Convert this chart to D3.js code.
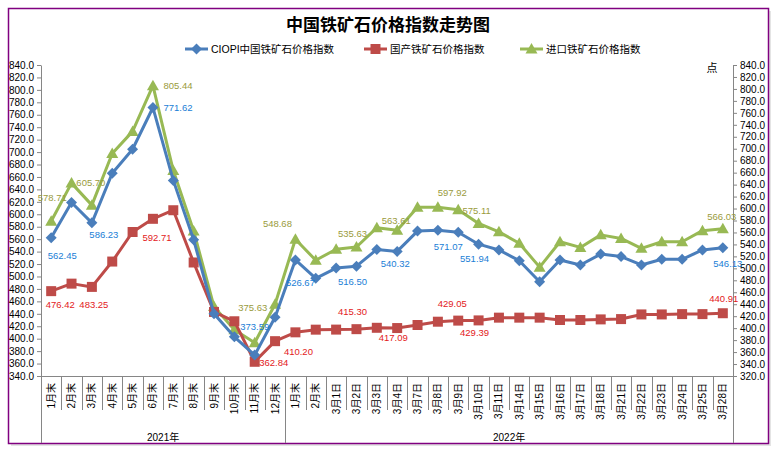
<!DOCTYPE html>
<html>
<head>
<meta charset="utf-8">
<script src="https://cdn.jsdelivr.net/npm/d3@7"></script>
<style>
  body { margin: 0; background: #fff; }
  text { font-family: "Liberation Sans", "Noto Sans CJK SC", sans-serif; }
</style>
</head>
<body>
<script>
// categories (x axis)
var categories = ["1月末","2月末","3月末","4月末","5月末","6月末","7月末","8月末","9月末","10月末","11月末","12月末",
                  "1月末","2月末","3月1日","3月2日","3月3日","3月4日","3月7日","3月8日","3月9日","3月10日","3月11日",
                  "3月14日","3月15日","3月16日","3月17日","3月18日","3月21日","3月22日","3月23日","3月24日","3月25日","3月28日"];
var yearLabels = ["2021年", "2022年"];
var yearCounts = [12, 22];

// series values
var ciopi = [562.45, 619, 586.23, 666, 704.5, 771.62, 654.5, 559, 440, 403, 373.59, 434.4,
             526.67, 497, 513.5, 516.50, 543.5, 540.32, 573, 574.5, 571.07, 551.94, 542.6,
             525.4, 491.6, 526.5, 518.5, 536, 532, 518.5, 527.6, 527.6, 542.6, 546.13];
var domestic = [476.42, 488.5, 483.25, 524, 571.5, 592.71, 606.5, 522.5, 443, 428, 362.84, 396,
                410.20, 414.5, 414.6, 415.30, 417.5, 417.09, 422, 427.3, 429.05, 429.39, 433.8,
                433.8, 433.8, 430, 430, 431, 431.5, 439, 439, 439.5, 439.5, 440.91];
var imported = [578.71, 642.5, 605.70, 692, 729, 805.44, 663.5, 562.5, 436, 397.5, 375.63, 440,
                548.68, 513.5, 532, 535.63, 568, 563.61, 602, 602, 597.92, 575.11, 561,
                542, 502, 544.5, 535, 556, 550, 533.5, 544.5, 544.5, 563, 566.03];

// which points carry a value label
var ciopiLabelIdx = [0, 2, 5, 10, 12, 15, 17, 20, 21, 33];
var domesticLabelIdx = [0, 2, 5, 10, 12, 15, 17, 20, 21, 33];
var importedLabelIdx = [0, 2, 5, 10, 12, 15, 17, 20, 21, 33];

// y ticks
var leftTicks = d3.range(340, 841, 20);
var rightTicks = d3.range(320, 841, 20);

function init() {
    var w = 777, h = 452;
    var left = 41, right = 733, top = 65, bottom = 376;

    // label placement offsets (dx, dy) relative to each labelled point
    var ciopiOff = [[11,18],[12,12],[25,0],[0,-28],[5,23],[-4,15],[-2,12],[-10,14],[-4,15],[5,16]];
    var domesticOff = [[9,14],[2,18],[4,19],[19,1],[3,19],[-4,-17],[-4,10],[-6,-17],[-4,12],[1,-15]];
    var importedOff = [[1,-24],[-1,-22],[25,0],[-2,-35],[-18,-16],[-4,-13],[-1,-10],[-6,-17],[-2,-13],[-1,-12]];

    var svg = d3.select("body")
                .append("svg")
                .attr("width", w)
                .attr("height", h);

    // chart frame with a soft shadow
    svg.append("rect")
        .attr("x", 11).attr("y", 11)
        .attr("width", 760).attr("height", 435)
        .attr("fill", "#e4e4e4");
    svg.append("rect")
        .attr("x", 8.5).attr("y", 8.5)
        .attr("width", 760).attr("height", 435)
        .attr("fill", "#fff")
        .attr("stroke", "#800080")
        .attr("stroke-width", 1.5);

    var xScale = d3.scaleBand()
                    .domain(d3.range(categories.length))
                    .range([left, right]);

    var yLeft = d3.scaleLinear()
                    .domain([340, 840])
                    .range([bottom, top]);

    var yRight = d3.scaleLinear()
                    .domain([320, 840])
                    .range([bottom, top]);

    // title
    svg.append("text")
        .attr("x", 388)
        .attr("y", 25)
        .attr("dy", "0.35em")
        .attr("text-anchor", "middle")
        .attr("font-size", "17px")
        .attr("font-weight", "bold")
        .text("中国铁矿石价格指数走势图");

    // left axis
    var leftAxis = svg.append("g")
        .attr("transform", "translate(" + left + ",0)")
        .call(d3.axisLeft(yLeft).tickValues(leftTicks).tickFormat(d3.format(".1f")).tickSize(4).tickSizeOuter(0));

    // right axis
    var rightAxis = svg.append("g")
        .attr("transform", "translate(" + right + ",0)")
        .call(d3.axisRight(yRight).tickValues(rightTicks).tickFormat(d3.format(".1f")).tickSize(4).tickSizeOuter(0));

    [leftAxis, rightAxis].forEach(function(g) {
        g.selectAll("path,line").attr("stroke", "#868686");
        g.selectAll("text").attr("font-size", "10px").attr("fill", "#000");
    });

    // x axis with rotated category labels
    var xAxis = svg.append("g")
        .attr("transform", "translate(0," + bottom + ")")
        .call(d3.axisBottom(xScale).tickSize(0).tickSizeOuter(0).tickFormat(function(i) {
            return categories[i];
        }));
    xAxis.select(".domain").attr("stroke", "#868686");
    xAxis.selectAll("text")
        .attr("transform", "rotate(-90)")
        .attr("x", -7)
        .attr("y", 0)
        .attr("dy", "0.35em")
        .attr("text-anchor", "end")
        .attr("font-size", "10px")
        .attr("font-family", "'Noto Sans CJK SC', sans-serif")
        .attr("fill", "#000");

    // category separators, longer ones between the years
    var bounds = [0];
    yearCounts.forEach(function(c) { bounds.push(bounds[bounds.length - 1] + c); });
    var sepX = d3.range(categories.length + 1).map(function(k) {
        return k < categories.length ? xScale(k) : xScale.range()[1];
    });
    svg.selectAll("line.sep")
        .data(sepX)
        .enter()
        .append("line")
        .attr("class", "sep")
        .attr("x1", function(d) { return Math.round(d) + 0.5; })
        .attr("x2", function(d) { return Math.round(d) + 0.5; })
        .attr("y1", bottom)
        .attr("y2", function(d, k) { return bounds.indexOf(k) >= 0 ? 443 : 410; })
        .attr("stroke", "#868686");

    // year labels
    svg.selectAll("text.year")
        .data(yearLabels)
        .enter()
        .append("text")
        .attr("class", "year")
        .attr("x", function(d, i) { return (sepX[bounds[i]] + sepX[bounds[i + 1]]) / 2; })
        .attr("y", 437)
        .attr("dy", "0.35em")
        .attr("text-anchor", "middle")
        .attr("font-size", "10px")
        .text(function(d) { return d; });

    // unit
    svg.append("text")
        .attr("x", 712)
        .attr("y", 68)
        .attr("dy", "0.35em")
        .attr("text-anchor", "middle")
        .attr("font-size", "11px")
        .attr("font-family", "'Noto Sans CJK SC', sans-serif")
        .text("点");

    var series = [
        {name: "CIOPI中国铁矿石价格指数", values: ciopi, y: yLeft, color: "#4a7ebb", label: "#1a7ed6",
         marker: "M0,-5.5L5.5,0L0,5.5L-5.5,0Z", idx: ciopiLabelIdx, off: ciopiOff},
        {name: "国产铁矿石价格指数", values: domestic, y: yLeft, color: "#be4b48", label: "#e3201b",
         marker: "M-5,-5L5,-5L5,5L-5,5Z", idx: domesticLabelIdx, off: domesticOff},
        {name: "进口铁矿石价格指数", values: imported, y: yRight, color: "#98b954", label: "#9a9b3c",
         marker: "M0,-6L6,4.5L-6,4.5Z", idx: importedLabelIdx, off: importedOff}
    ];

    var cx = function(i) { return xScale(i) + xScale.bandwidth() / 2; };

    // lines and markers, drawn back to front
    series.slice().reverse().forEach(function(s) {
        var line = d3.line()
            .x(function(d, i) { return cx(i); })
            .y(function(d) { return s.y(d); });

        svg.append("path")
            .datum(s.values)
            .attr("fill", "none")
            .attr("stroke", s.color)
            .attr("stroke-width", 3)
            .attr("stroke-linejoin", "round")
            .attr("d", line);

        svg.append("g")
            .selectAll("path")
            .data(s.values)
            .enter()
            .append("path")
            .attr("d", s.marker)
            .attr("transform", function(d, i) { return "translate(" + cx(i) + "," + s.y(d) + ")"; })
            .attr("fill", s.color);
    });

    // value labels
    series.forEach(function(s) {
        svg.append("g")
            .selectAll("text")
            .data(s.idx)
            .enter()
            .append("text")
            .attr("x", function(i, k) { return cx(i) + s.off[k][0]; })
            .attr("y", function(i, k) { return s.y(s.values[i]) + s.off[k][1]; })
            .attr("dy", "0.35em")
            .attr("text-anchor", "middle")
            .attr("font-size", "9.5px")
            .attr("fill", s.label)
            .text(function(i) { return s.values[i].toFixed(2); });
    });

    // legend
    var legX = [185, 364, 520];
    var legend = svg.selectAll("g.legend")
        .data(series)
        .enter()
        .append("g")
        .attr("class", "legend")
        .attr("transform", function(d, i) { return "translate(" + legX[i] + ",49)"; });
    legend.append("line")
        .attr("x1", 0).attr("x2", 23)
        .attr("stroke", function(d) { return d.color; })
        .attr("stroke-width", 3);
    legend.append("path")
        .attr("d", function(d) { return d.marker; })
        .attr("transform", "translate(11.5,0)")
        .attr("fill", function(d) { return d.color; });
    legend.append("text")
        .attr("x", 26)
        .attr("dy", "0.35em")
        .attr("font-size", "10.5px")
        .text(function(d) { return d.name; });
}
window.onload = init;
</script>
</body>
</html>
